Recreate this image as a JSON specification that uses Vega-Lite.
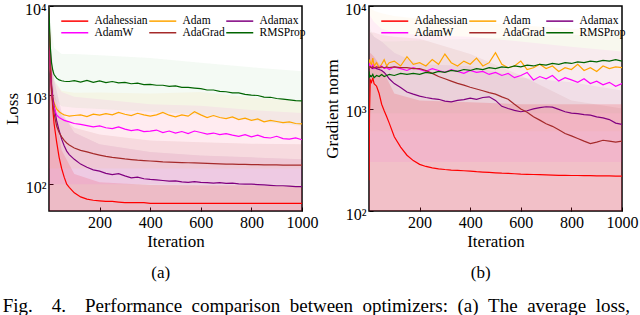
{
"$schema": "https://vega.github.io/schema/vega-lite/v6.json",
"padding": {"left": 2, "top": 0, "right": 0, "bottom": 0},
"background": "white",
"config": {
  "font": "Liberation Serif",
  "view": {"stroke": "black", "strokeWidth": 1.5},
  "axis": {"grid": false, "domain": false, "ticks": true, "tickSize": -4, "tickColor": "black", "tickWidth": 1, "labelFont": "Liberation Serif", "labelFontSize": 16, "labelColor": "black", "labelPadding": 7, "titleFont": "Liberation Serif", "titleFontSize": 17, "titleFontWeight": "normal", "titleColor": "black", "titlePadding": 3},
  "axisY": {"labelOffset": 3},
  "concat": {"spacing": 3}
},
"title": {"text": "Fig.\u00a0\u00a0\u00a0\u00a04.\u00a0\u00a0\u00a0\u00a0Performance\u00a0\u00a0comparison\u00a0\u00a0between\u00a0\u00a0optimizers:\u00a0\u00a0(a)\u00a0\u00a0The\u00a0\u00a0average\u00a0\u00a0loss,", "orient": "bottom", "anchor": "start", "frame": "bounds", "font": "Liberation Serif", "fontSize": 19, "fontWeight": "normal", "color": "black", "offset": 15},
"datasets": {
"lossL": [
{"i":0,"Adahessian":9500,"Adam":9800,"Adamax":9500,"AdamW":9800,"AdaGrad":9500,"RMSProp":9800},
{"i":2,"Adahessian":5000,"Adam":4000,"Adamax":4500,"AdamW":4000,"AdaGrad":4500,"RMSProp":6000},
{"i":5,"Adahessian":2500,"Adam":2000,"Adamax":2200,"AdamW":2000,"AdaGrad":2000,"RMSProp":3500},
{"i":10,"Adahessian":1200,"Adam":1200,"Adamax":1300,"AdamW":1100,"AdaGrad":1100,"RMSProp":2300},
{"i":15,"Adahessian":700,"Adam":950,"Adamax":950,"AdamW":850,"AdaGrad":800,"RMSProp":1900},
{"i":20,"Adahessian":480,"Adam":820,"Adamax":760,"AdamW":720,"AdaGrad":620,"RMSProp":1700},
{"i":30,"Adahessian":300,"Adam":700,"Adamax":520,"AdamW":600,"AdaGrad":450,"RMSProp":1550},
{"i":40,"Adahessian":200,"Adam":650,"Adamax":400,"AdamW":560,"AdaGrad":380,"RMSProp":1480},
{"i":50,"Adahessian":150,"Adam":620,"Adamax":320,"AdamW":540,"AdaGrad":340,"RMSProp":1450},
{"i":60,"Adahessian":120,"Adam":600,"Adamax":270,"AdamW":520,"AdaGrad":310,"RMSProp":1430},
{"i":70,"Adahessian":100,"Adam":590,"Adamax":235,"AdamW":510,"AdaGrad":290,"RMSProp":1420},
{"i":80,"Adahessian":92,"Adam":580,"Adamax":215,"AdamW":500,"AdaGrad":275,"RMSProp":1420},
{"i":100,"Adahessian":80,"Adam":590,"Adamax":190,"AdamW":480,"AdaGrad":255,"RMSProp":1450},
{"i":125,"Adahessian":72,"Adam":600,"Adamax":168,"AdamW":470,"AdaGrad":240,"RMSProp":1400},
{"i":150,"Adahessian":68,"Adam":575,"Adamax":155,"AdamW":455,"AdaGrad":230,"RMSProp":1460},
{"i":175,"Adahessian":66,"Adam":610,"Adamax":145,"AdamW":440,"AdaGrad":220,"RMSProp":1390},
{"i":200,"Adahessian":65,"Adam":595,"Adamax":140,"AdamW":450,"AdaGrad":212,"RMSProp":1440},
{"i":225,"Adahessian":64,"Adam":620,"Adamax":132,"AdamW":430,"AdaGrad":205,"RMSProp":1380},
{"i":250,"Adahessian":64,"Adam":600,"Adamax":128,"AdamW":420,"AdaGrad":200,"RMSProp":1420},
{"i":275,"Adahessian":63,"Adam":640,"Adamax":131,"AdamW":440,"AdaGrad":196,"RMSProp":1370},
{"i":300,"Adahessian":62,"Adam":610,"Adamax":124,"AdamW":415,"AdaGrad":192,"RMSProp":1390},
{"i":325,"Adahessian":62,"Adam":590,"Adamax":118,"AdamW":400,"AdaGrad":189,"RMSProp":1340},
{"i":350,"Adahessian":62,"Adam":625,"Adamax":120,"AdamW":410,"AdaGrad":186,"RMSProp":1360},
{"i":375,"Adahessian":62,"Adam":600,"Adamax":115,"AdamW":390,"AdaGrad":184,"RMSProp":1310},
{"i":400,"Adahessian":61,"Adam":580,"Adamax":113,"AdamW":395,"AdaGrad":182,"RMSProp":1320},
{"i":425,"Adahessian":61,"Adam":600,"Adamax":112,"AdamW":405,"AdaGrad":180,"RMSProp":1290},
{"i":450,"Adahessian":61,"Adam":640,"Adamax":110,"AdamW":380,"AdaGrad":178,"RMSProp":1290},
{"i":475,"Adahessian":61,"Adam":595,"Adamax":108,"AdamW":395,"AdaGrad":177,"RMSProp":1250},
{"i":500,"Adahessian":61,"Adam":570,"Adamax":109,"AdamW":375,"AdaGrad":176,"RMSProp":1270},
{"i":525,"Adahessian":61,"Adam":600,"Adamax":106,"AdamW":390,"AdaGrad":175,"RMSProp":1220},
{"i":550,"Adahessian":61,"Adam":580,"Adamax":105,"AdamW":370,"AdaGrad":174,"RMSProp":1220},
{"i":575,"Adahessian":61,"Adam":650,"Adamax":107,"AdamW":395,"AdaGrad":173,"RMSProp":1200},
{"i":600,"Adahessian":61,"Adam":600,"Adamax":105,"AdamW":380,"AdaGrad":172,"RMSProp":1180},
{"i":625,"Adahessian":61,"Adam":560,"Adamax":104,"AdamW":365,"AdaGrad":171,"RMSProp":1140},
{"i":650,"Adahessian":61,"Adam":590,"Adamax":103,"AdamW":375,"AdaGrad":170,"RMSProp":1140},
{"i":675,"Adahessian":61,"Adam":560,"Adamax":104,"AdamW":360,"AdaGrad":169,"RMSProp":1100},
{"i":700,"Adahessian":61,"Adam":545,"Adamax":102,"AdamW":370,"AdaGrad":168,"RMSProp":1090},
{"i":725,"Adahessian":61,"Adam":570,"Adamax":103,"AdamW":355,"AdaGrad":168,"RMSProp":1060},
{"i":750,"Adahessian":61,"Adam":530,"Adamax":101,"AdamW":345,"AdaGrad":167,"RMSProp":1060},
{"i":775,"Adahessian":61,"Adam":550,"Adamax":100,"AdamW":360,"AdaGrad":167,"RMSProp":1020},
{"i":800,"Adahessian":61,"Adam":520,"Adamax":100,"AdamW":340,"AdaGrad":166,"RMSProp":1000},
{"i":825,"Adahessian":61,"Adam":540,"Adamax":99,"AdamW":355,"AdaGrad":166,"RMSProp":990},
{"i":850,"Adahessian":61,"Adam":500,"Adamax":98,"AdamW":335,"AdaGrad":165,"RMSProp":950},
{"i":875,"Adahessian":61,"Adam":520,"Adamax":97,"AdamW":330,"AdaGrad":165,"RMSProp":945},
{"i":900,"Adahessian":61,"Adam":505,"Adamax":96,"AdamW":345,"AdaGrad":165,"RMSProp":915},
{"i":925,"Adahessian":61,"Adam":490,"Adamax":96,"AdamW":325,"AdaGrad":164,"RMSProp":900},
{"i":950,"Adahessian":61,"Adam":500,"Adamax":95,"AdamW":320,"AdaGrad":164,"RMSProp":885},
{"i":975,"Adahessian":61,"Adam":480,"Adamax":94,"AdamW":330,"AdaGrad":164,"RMSProp":865},
{"i":1000,"Adahessian":61,"Adam":475,"Adamax":94,"AdamW":315,"AdaGrad":164,"RMSProp":860}
],
"gradL": [
{"i":0,"Adahessian":200,"Adam":2600,"Adamax":2600,"AdamW":2500,"AdaGrad":2600,"RMSProp":2300},
{"i":2,"Adahessian":900,"Adam":3000,"Adamax":2500,"AdamW":2700,"AdaGrad":2500,"RMSProp":2000},
{"i":5,"Adahessian":1900,"Adam":2800,"Adamax":2550,"AdamW":2600,"AdaGrad":2550,"RMSProp":2100},
{"i":10,"Adahessian":1800,"Adam":2700,"Adamax":2500,"AdamW":2500,"AdaGrad":2500,"RMSProp":2050},
{"i":15,"Adahessian":2000,"Adam":3100,"Adamax":2450,"AdamW":2650,"AdaGrad":2550,"RMSProp":2150},
{"i":20,"Adahessian":1750,"Adam":2600,"Adamax":2500,"AdamW":2450,"AdaGrad":2500,"RMSProp":2000},
{"i":30,"Adahessian":1650,"Adam":2800,"Adamax":2450,"AdamW":2550,"AdaGrad":2550,"RMSProp":2100},
{"i":40,"Adahessian":1400,"Adam":2500,"Adamax":2400,"AdamW":2500,"AdaGrad":2500,"RMSProp":2050},
{"i":50,"Adahessian":1100,"Adam":2700,"Adamax":2350,"AdamW":2600,"AdaGrad":2550,"RMSProp":2150},
{"i":60,"Adahessian":950,"Adam":3000,"Adamax":2250,"AdamW":2450,"AdaGrad":2500,"RMSProp":2050},
{"i":70,"Adahessian":830,"Adam":2600,"Adamax":2100,"AdamW":2500,"AdaGrad":2550,"RMSProp":2100},
{"i":80,"Adahessian":720,"Adam":2800,"Adamax":1950,"AdamW":2400,"AdaGrad":2500,"RMSProp":2150},
{"i":100,"Adahessian":530,"Adam":2900,"Adamax":1750,"AdamW":2550,"AdaGrad":2550,"RMSProp":2100},
{"i":125,"Adahessian":420,"Adam":2600,"Adamax":1600,"AdamW":2450,"AdaGrad":2500,"RMSProp":2200},
{"i":150,"Adahessian":350,"Adam":3200,"Adamax":1450,"AdamW":2350,"AdaGrad":2500,"RMSProp":2150},
{"i":175,"Adahessian":310,"Adam":2700,"Adamax":1380,"AdamW":2500,"AdaGrad":2450,"RMSProp":2200},
{"i":200,"Adahessian":285,"Adam":2800,"Adamax":1320,"AdamW":2400,"AdaGrad":2450,"RMSProp":2150},
{"i":225,"Adahessian":272,"Adam":2600,"Adamax":1280,"AdamW":2300,"AdaGrad":2350,"RMSProp":2250},
{"i":250,"Adahessian":264,"Adam":3000,"Adamax":1250,"AdamW":2450,"AdaGrad":2200,"RMSProp":2200},
{"i":275,"Adahessian":258,"Adam":2700,"Adamax":1230,"AdamW":2350,"AdaGrad":2050,"RMSProp":2300},
{"i":300,"Adahessian":254,"Adam":3400,"Adamax":1180,"AdamW":2250,"AdaGrad":1950,"RMSProp":2250},
{"i":325,"Adahessian":251,"Adam":2800,"Adamax":1160,"AdamW":2400,"AdaGrad":1850,"RMSProp":2350},
{"i":350,"Adahessian":249,"Adam":2600,"Adamax":1200,"AdamW":2300,"AdaGrad":1760,"RMSProp":2300},
{"i":375,"Adahessian":247,"Adam":2900,"Adamax":1220,"AdamW":2200,"AdaGrad":1690,"RMSProp":2400},
{"i":400,"Adahessian":245,"Adam":2700,"Adamax":1260,"AdamW":2350,"AdaGrad":1610,"RMSProp":2350},
{"i":425,"Adahessian":242,"Adam":3100,"Adamax":1230,"AdamW":2250,"AdaGrad":1550,"RMSProp":2450},
{"i":450,"Adahessian":240,"Adam":2600,"Adamax":1280,"AdamW":2300,"AdaGrad":1490,"RMSProp":2400},
{"i":475,"Adahessian":238,"Adam":2800,"Adamax":1300,"AdamW":2150,"AdaGrad":1430,"RMSProp":2500},
{"i":500,"Adahessian":236,"Adam":3500,"Adamax":1200,"AdamW":2250,"AdaGrad":1380,"RMSProp":2450},
{"i":525,"Adahessian":234,"Adam":2700,"Adamax":1050,"AdamW":2100,"AdaGrad":1300,"RMSProp":2550},
{"i":550,"Adahessian":233,"Adam":2500,"Adamax":1000,"AdamW":2200,"AdaGrad":1230,"RMSProp":2500},
{"i":575,"Adahessian":231,"Adam":2600,"Adamax":960,"AdamW":2000,"AdaGrad":1100,"RMSProp":2600},
{"i":600,"Adahessian":229,"Adam":2900,"Adamax":930,"AdamW":2100,"AdaGrad":990,"RMSProp":2550},
{"i":625,"Adahessian":228,"Adam":2400,"Adamax":950,"AdamW":2250,"AdaGrad":920,"RMSProp":2650},
{"i":650,"Adahessian":227,"Adam":2500,"Adamax":990,"AdamW":1900,"AdaGrad":830,"RMSProp":2600},
{"i":675,"Adahessian":226,"Adam":2700,"Adamax":1020,"AdamW":2050,"AdaGrad":770,"RMSProp":2700},
{"i":700,"Adahessian":225,"Adam":2450,"Adamax":1040,"AdamW":1950,"AdaGrad":710,"RMSProp":2650},
{"i":725,"Adahessian":224,"Adam":2600,"Adamax":1030,"AdamW":2100,"AdaGrad":670,"RMSProp":2750},
{"i":750,"Adahessian":223,"Adam":2300,"Adamax":980,"AdamW":1850,"AdaGrad":620,"RMSProp":2700},
{"i":775,"Adahessian":223,"Adam":2500,"Adamax":930,"AdamW":2000,"AdaGrad":570,"RMSProp":2800},
{"i":800,"Adahessian":222,"Adam":2400,"Adamax":900,"AdamW":1900,"AdaGrad":540,"RMSProp":2750},
{"i":825,"Adahessian":222,"Adam":2700,"Adamax":890,"AdamW":1800,"AdaGrad":510,"RMSProp":2850},
{"i":850,"Adahessian":221,"Adam":2350,"Adamax":870,"AdamW":1950,"AdaGrad":480,"RMSProp":2800},
{"i":875,"Adahessian":221,"Adam":2500,"Adamax":860,"AdamW":1750,"AdaGrad":455,"RMSProp":2900},
{"i":900,"Adahessian":220,"Adam":2300,"Adamax":830,"AdamW":1850,"AdaGrad":470,"RMSProp":2850},
{"i":925,"Adahessian":220,"Adam":2600,"Adamax":810,"AdamW":1700,"AdaGrad":490,"RMSProp":2950},
{"i":950,"Adahessian":220,"Adam":2450,"Adamax":780,"AdamW":1800,"AdaGrad":480,"RMSProp":2900},
{"i":975,"Adahessian":219,"Adam":2550,"Adamax":720,"AdamW":1650,"AdaGrad":470,"RMSProp":3000},
{"i":1000,"Adahessian":219,"Adam":2500,"Adamax":700,"AdamW":1750,"AdaGrad":480,"RMSProp":2900}
],
"lossB": [
{"s":"Adahessian","i":0,"lo":30,"hi":10000},{"s":"Adahessian","i":5,"lo":30,"hi":4000},{"s":"Adahessian","i":20,"lo":30,"hi":800},{"s":"Adahessian","i":50,"lo":30,"hi":240},{"s":"Adahessian","i":100,"lo":30,"hi":130},{"s":"Adahessian","i":200,"lo":30,"hi":105},{"s":"Adahessian","i":400,"lo":30,"hi":98},{"s":"Adahessian","i":600,"lo":30,"hi":97},{"s":"Adahessian","i":800,"lo":30,"hi":97},{"s":"Adahessian","i":1000,"lo":30,"hi":96},
{"s":"Adamax","i":0,"lo":40,"hi":10000},{"s":"Adamax","i":5,"lo":40,"hi":4400},{"s":"Adamax","i":20,"lo":40,"hi":1500},{"s":"Adamax","i":50,"lo":40,"hi":640},{"s":"Adamax","i":100,"lo":40,"hi":380},{"s":"Adamax","i":200,"lo":40,"hi":280},{"s":"Adamax","i":400,"lo":40,"hi":230},{"s":"Adamax","i":600,"lo":40,"hi":210},{"s":"Adamax","i":800,"lo":40,"hi":200},{"s":"Adamax","i":1000,"lo":40,"hi":190},
{"s":"AdaGrad","i":0,"lo":50,"hi":10000},{"s":"AdaGrad","i":5,"lo":50,"hi":3400},{"s":"AdaGrad","i":20,"lo":50,"hi":1050},{"s":"AdaGrad","i":50,"lo":50,"hi":580},{"s":"AdaGrad","i":100,"lo":50,"hi":430},{"s":"AdaGrad","i":200,"lo":50,"hi":360},{"s":"AdaGrad","i":400,"lo":50,"hi":310},{"s":"AdaGrad","i":600,"lo":50,"hi":295},{"s":"AdaGrad","i":800,"lo":50,"hi":285},{"s":"AdaGrad","i":1000,"lo":50,"hi":280},
{"s":"AdamW","i":0,"lo":100,"hi":10000},{"s":"AdamW","i":5,"lo":100,"hi":4000},{"s":"AdamW","i":20,"lo":100,"hi":1440},{"s":"AdamW","i":50,"lo":100,"hi":1080},{"s":"AdamW","i":100,"lo":100,"hi":960},{"s":"AdamW","i":200,"lo":100,"hi":900},{"s":"AdamW","i":400,"lo":100,"hi":790},{"s":"AdamW","i":600,"lo":100,"hi":760},{"s":"AdamW","i":800,"lo":100,"hi":680},{"s":"AdamW","i":1000,"lo":100,"hi":630},
{"s":"Adam","i":0,"lo":150,"hi":10000},{"s":"Adam","i":5,"lo":150,"hi":3600},{"s":"Adam","i":20,"lo":150,"hi":1500},{"s":"Adam","i":50,"lo":150,"hi":1120},{"s":"Adam","i":100,"lo":150,"hi":1060},{"s":"Adam","i":200,"lo":150,"hi":1070},{"s":"Adam","i":400,"lo":150,"hi":1040},{"s":"Adam","i":600,"lo":150,"hi":1080},{"s":"Adam","i":800,"lo":150,"hi":940},{"s":"Adam","i":1000,"lo":150,"hi":860},
{"s":"RMSProp","i":0,"lo":5000,"hi":10000},{"s":"RMSProp","i":5,"lo":1800,"hi":7000},{"s":"RMSProp","i":20,"lo":900,"hi":3400},{"s":"RMSProp","i":50,"lo":750,"hi":2900},{"s":"RMSProp","i":100,"lo":720,"hi":2900},{"s":"RMSProp","i":200,"lo":700,"hi":2800},{"s":"RMSProp","i":400,"lo":650,"hi":2600},{"s":"RMSProp","i":600,"lo":600,"hi":2300},{"s":"RMSProp","i":800,"lo":520,"hi":2050},{"s":"RMSProp","i":1000,"lo":450,"hi":1850}
],
"gradB": [
{"s":"Adahessian","i":0,"lo":80,"hi":3000},{"s":"Adahessian","i":5,"lo":80,"hi":3500},{"s":"Adahessian","i":20,"lo":80,"hi":3200},{"s":"Adahessian","i":50,"lo":80,"hi":2500},{"s":"Adahessian","i":100,"lo":80,"hi":1400},{"s":"Adahessian","i":200,"lo":80,"hi":1200},{"s":"Adahessian","i":400,"lo":80,"hi":1150},{"s":"Adahessian","i":600,"lo":80,"hi":1100},{"s":"Adahessian","i":800,"lo":80,"hi":1100},{"s":"Adahessian","i":1000,"lo":80,"hi":1100},
{"s":"Adamax","i":0,"lo":80,"hi":6000},{"s":"Adamax","i":5,"lo":80,"hi":5500},{"s":"Adamax","i":20,"lo":80,"hi":5000},{"s":"Adamax","i":50,"lo":80,"hi":4500},{"s":"Adamax","i":100,"lo":80,"hi":3500},{"s":"Adamax","i":200,"lo":80,"hi":2700},{"s":"Adamax","i":400,"lo":80,"hi":2600},{"s":"Adamax","i":600,"lo":80,"hi":2000},{"s":"Adamax","i":800,"lo":80,"hi":1800},{"s":"Adamax","i":1000,"lo":80,"hi":1500},
{"s":"AdaGrad","i":0,"lo":80,"hi":6000},{"s":"AdaGrad","i":5,"lo":80,"hi":5500},{"s":"AdaGrad","i":20,"lo":80,"hi":5500},{"s":"AdaGrad","i":50,"lo":80,"hi":5200},{"s":"AdaGrad","i":100,"lo":80,"hi":5000},{"s":"AdaGrad","i":200,"lo":80,"hi":4800},{"s":"AdaGrad","i":400,"lo":80,"hi":3400},{"s":"AdaGrad","i":600,"lo":80,"hi":2100},{"s":"AdaGrad","i":800,"lo":80,"hi":1200},{"s":"AdaGrad","i":1000,"lo":80,"hi":1000},
{"s":"AdamW","i":0,"lo":300,"hi":9000},{"s":"AdamW","i":5,"lo":300,"hi":8000},{"s":"AdamW","i":20,"lo":300,"hi":7000},{"s":"AdamW","i":50,"lo":300,"hi":6000},{"s":"AdamW","i":100,"lo":300,"hi":5500},{"s":"AdamW","i":200,"lo":300,"hi":5200},{"s":"AdamW","i":400,"lo":300,"hi":5000},{"s":"AdamW","i":600,"lo":300,"hi":4500},{"s":"AdamW","i":800,"lo":300,"hi":4000},{"s":"AdamW","i":1000,"lo":300,"hi":3600},
{"s":"Adam","i":0,"lo":600,"hi":10000},{"s":"Adam","i":5,"lo":600,"hi":9500},{"s":"Adam","i":20,"lo":600,"hi":9000},{"s":"Adam","i":50,"lo":600,"hi":8500},{"s":"Adam","i":100,"lo":600,"hi":8000},{"s":"Adam","i":200,"lo":600,"hi":7500},{"s":"Adam","i":400,"lo":600,"hi":7000},{"s":"Adam","i":600,"lo":600,"hi":6500},{"s":"Adam","i":800,"lo":600,"hi":6000},{"s":"Adam","i":1000,"lo":600,"hi":5500},
{"s":"RMSProp","i":0,"lo":900,"hi":7000},{"s":"RMSProp","i":5,"lo":900,"hi":6000},{"s":"RMSProp","i":20,"lo":900,"hi":5000},{"s":"RMSProp","i":50,"lo":900,"hi":4500},{"s":"RMSProp","i":100,"lo":900,"hi":4500},{"s":"RMSProp","i":200,"lo":900,"hi":4600},{"s":"RMSProp","i":400,"lo":900,"hi":4800},{"s":"RMSProp","i":600,"lo":900,"hi":5000},{"s":"RMSProp","i":800,"lo":900,"hi":5200},{"s":"RMSProp","i":1000,"lo":900,"hi":5400}
]
},
"hconcat": [
{
  "width": 253, "height": 205,
  "title": {"text": "(a)", "orient": "bottom", "frame": "bounds", "anchor": "middle", "font": "Liberation Serif", "fontSize": 17, "fontWeight": "normal", "color": "black", "offset": 16},
  "layer": [
    {"data": {"name": "lossB"}, "transform": [{"filter": "datum.s == 'Adahessian'"}], "mark": {"type": "area", "color": "#ff0000", "opacity": 0.13, "clip": true},
     "encoding": {
        "x": {"field": "i", "type": "quantitative", "scale": {"domain": [0, 1000], "nice": false}, "axis": {"values": [200, 400, 600, 800, 1000], "format": "d", "title": "Iteration", "labelFlush": false}},
        "y": {"field": "lo", "type": "quantitative", "scale": {"type": "log", "domain": [50, 10000], "nice": false}, "axis": {"values": [100, 1000, 10000], "title": "Loss", "labelExpr": "datum.value == 100 ? '10²' : datum.value == 1000 ? '10³' : '10⁴'"}},
        "y2": {"field": "hi"}}},
    {"data": {"name": "lossB"}, "transform": [{"filter": "datum.s == 'Adamax'"}], "mark": {"type": "area", "color": "#800080", "opacity": 0.09, "clip": true},
     "encoding": {"x": {"field": "i", "type": "quantitative"}, "y": {"field": "lo", "type": "quantitative"}, "y2": {"field": "hi"}}},
    {"data": {"name": "lossB"}, "transform": [{"filter": "datum.s == 'AdaGrad'"}], "mark": {"type": "area", "color": "#a52a2a", "opacity": 0.09, "clip": true},
     "encoding": {"x": {"field": "i", "type": "quantitative"}, "y": {"field": "lo", "type": "quantitative"}, "y2": {"field": "hi"}}},
    {"data": {"name": "lossB"}, "transform": [{"filter": "datum.s == 'AdamW'"}], "mark": {"type": "area", "color": "#ff00ff", "opacity": 0.06, "clip": true},
     "encoding": {"x": {"field": "i", "type": "quantitative"}, "y": {"field": "lo", "type": "quantitative"}, "y2": {"field": "hi"}}},
    {"data": {"name": "lossB"}, "transform": [{"filter": "datum.s == 'Adam'"}], "mark": {"type": "area", "color": "#ffa500", "opacity": 0.06, "clip": true},
     "encoding": {"x": {"field": "i", "type": "quantitative"}, "y": {"field": "lo", "type": "quantitative"}, "y2": {"field": "hi"}}},
    {"data": {"name": "lossB"}, "transform": [{"filter": "datum.s == 'RMSProp'"}], "mark": {"type": "area", "color": "#2e9a2e", "opacity": 0.05, "clip": true},
     "encoding": {"x": {"field": "i", "type": "quantitative"}, "y": {"field": "lo", "type": "quantitative"}, "y2": {"field": "hi"}}},
    {
      "data": {"name": "lossL"},
      "transform": [{"fold": ["Adahessian", "Adam", "Adamax", "AdamW", "AdaGrad", "RMSProp"], "as": ["s", "v"]}],
      "mark": {"type": "line", "strokeWidth": 1.2, "clip": true},
      "encoding": {
        "x": {"field": "i", "type": "quantitative"},
        "y": {"field": "v", "type": "quantitative"},
        "color": {"field": "s", "type": "nominal", "scale": {"domain": ["Adahessian", "Adam", "Adamax", "AdamW", "AdaGrad", "RMSProp"], "range": ["#ff0000", "#ffa500", "#800080", "#ff00ff", "#a52a2a", "#006400"]},
          "legend": {"orient": "none", "direction": "horizontal", "legendX": 11, "legendY": 9, "columns": 3, "title": null, "labelFont": "Liberation Serif", "labelFontSize": 11.5, "labelColor": "black", "symbolType": "M-3,0H3", "symbolSize": 81, "symbolStrokeWidth": 1.5, "symbolOffset": 9, "labelOffset": 14, "columnPadding": -2.5, "rowPadding": -1, "padding": 0}}
      }
    }
  ]
},
{
  "width": 253, "height": 205,
  "title": {"text": "(b)", "orient": "bottom", "frame": "bounds", "anchor": "middle", "font": "Liberation Serif", "fontSize": 17, "fontWeight": "normal", "color": "black", "offset": 16},
  "layer": [
    {"data": {"name": "gradB"}, "transform": [{"filter": "datum.s == 'Adahessian'"}], "mark": {"type": "area", "color": "#ff0000", "opacity": 0.15, "clip": true},
     "encoding": {
        "x": {"field": "i", "type": "quantitative", "scale": {"domain": [0, 1000], "nice": false}, "axis": {"values": [200, 400, 600, 800, 1000], "format": "d", "title": "Iteration", "labelFlush": false}},
        "y": {"field": "lo", "type": "quantitative", "scale": {"type": "log", "domain": [100, 10000], "nice": false}, "axis": {"values": [100, 1000, 10000], "title": "Gradient norm", "labelExpr": "datum.value == 100 ? '10²' : datum.value == 1000 ? '10³' : '10⁴'"}},
        "y2": {"field": "hi"}}},
    {"data": {"name": "gradB"}, "transform": [{"filter": "datum.s == 'Adamax'"}], "mark": {"type": "area", "color": "#800080", "opacity": 0.06, "clip": true},
     "encoding": {"x": {"field": "i", "type": "quantitative"}, "y": {"field": "lo", "type": "quantitative"}, "y2": {"field": "hi"}}},
    {"data": {"name": "gradB"}, "transform": [{"filter": "datum.s == 'AdaGrad'"}], "mark": {"type": "area", "color": "#a52a2a", "opacity": 0.07, "clip": true},
     "encoding": {"x": {"field": "i", "type": "quantitative"}, "y": {"field": "lo", "type": "quantitative"}, "y2": {"field": "hi"}}},
    {"data": {"name": "gradB"}, "transform": [{"filter": "datum.s == 'AdamW'"}], "mark": {"type": "area", "color": "#ff00ff", "opacity": 0.05, "clip": true},
     "encoding": {"x": {"field": "i", "type": "quantitative"}, "y": {"field": "lo", "type": "quantitative"}, "y2": {"field": "hi"}}},
    {"data": {"name": "gradB"}, "transform": [{"filter": "datum.s == 'Adam'"}], "mark": {"type": "area", "color": "#ffa500", "opacity": 0.04, "clip": true},
     "encoding": {"x": {"field": "i", "type": "quantitative"}, "y": {"field": "lo", "type": "quantitative"}, "y2": {"field": "hi"}}},
    {"data": {"name": "gradB"}, "transform": [{"filter": "datum.s == 'RMSProp'"}], "mark": {"type": "area", "color": "#2e9a2e", "opacity": 0.03, "clip": true},
     "encoding": {"x": {"field": "i", "type": "quantitative"}, "y": {"field": "lo", "type": "quantitative"}, "y2": {"field": "hi"}}},
    {
      "data": {"name": "gradL"},
      "transform": [{"fold": ["Adahessian", "Adam", "Adamax", "AdamW", "AdaGrad", "RMSProp"], "as": ["s", "v"]}],
      "mark": {"type": "line", "strokeWidth": 1.2, "clip": true},
      "encoding": {
        "x": {"field": "i", "type": "quantitative"},
        "y": {"field": "v", "type": "quantitative"},
        "color": {"field": "s", "type": "nominal", "scale": {"domain": ["Adahessian", "Adam", "Adamax", "AdamW", "AdaGrad", "RMSProp"], "range": ["#ff0000", "#ffa500", "#800080", "#ff00ff", "#a52a2a", "#006400"]},
          "legend": {"orient": "none", "direction": "horizontal", "legendX": 11, "legendY": 9, "columns": 3, "title": null, "labelFont": "Liberation Serif", "labelFontSize": 11.5, "labelColor": "black", "symbolType": "M-3,0H3", "symbolSize": 81, "symbolStrokeWidth": 1.5, "symbolOffset": 9, "labelOffset": 14, "columnPadding": -2.5, "rowPadding": -1, "padding": 0}}
      }
    }
  ]
}
],
"resolve": {"scale": {"x": "independent", "y": "independent", "color": "independent"}, "legend": {"color": "independent"}}
}
